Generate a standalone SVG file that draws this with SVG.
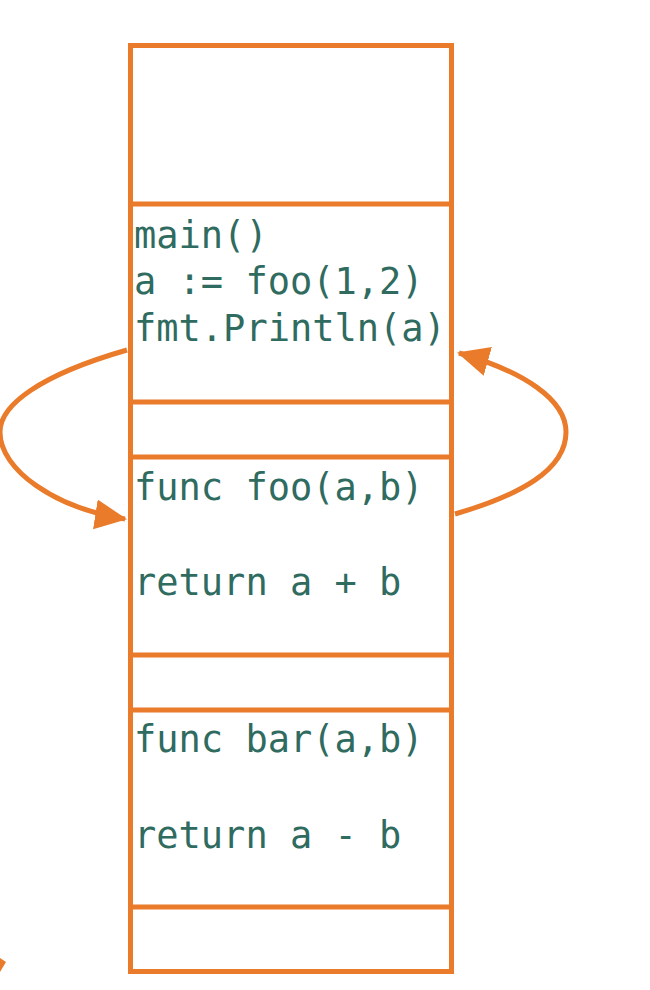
<svg xmlns="http://www.w3.org/2000/svg" width="650" height="990" viewBox="0 0 650 990">
<style>
.box{fill:none;stroke:#e97b2b;stroke-width:5}
.div{stroke:#e97b2b;stroke-width:5}
.code{font-family:"DejaVu Sans Mono","Liberation Mono",monospace;font-size:37px;fill:#2f6b5f}
.conn{fill:none;stroke:#e97b2b;stroke-width:5}
</style>
<defs>
<marker id="ah" markerWidth="8" markerHeight="8" refX="6" refY="3" orient="auto" markerUnits="strokeWidth">
<path d="M0,0 L6.4,3 L0,6 Z" fill="#e97b2b"/>
</marker>
</defs>
<rect width="650" height="990" fill="#ffffff"/>
<g id="stack">
<rect class="box" x="130.5" y="45.5" width="321" height="926"/>
<line class="div" x1="130" y1="204" x2="452" y2="204"/>
<line class="div" x1="130" y1="402" x2="452" y2="402"/>
<line class="div" x1="130" y1="457" x2="452" y2="457"/>
<line class="div" x1="130" y1="655" x2="452" y2="655"/>
<line class="div" x1="130" y1="710" x2="452" y2="710"/>
<line class="div" x1="130" y1="907" x2="452" y2="907"/>
</g>
<g id="main">
<text class="code" x="134" y="248">main()</text>
<text class="code" x="134" y="294">a := foo(1,2)</text>
<text class="code" x="134" y="341">fmt.Println(a)</text>
</g>
<g id="foo">
<text class="code" x="134" y="500">func foo(a,b)</text>
<text class="code" x="134" y="595">return a + b</text>
</g>
<g id="bar">
<text class="code" x="134" y="752">func bar(a,b)</text>
<text class="code" x="134" y="848">return a - b</text>
</g>
<g id="connectors">
<path class="conn" d="M127,350 C40,375 0,405 0,432 C0,470 55,508 125,519" marker-end="url(#ah)"/>
<path class="conn" d="M455,514 C520,495 566,470 566,432 C566,400 525,372 459,353" marker-end="url(#ah)"/>
<polygon points="0,958 6,962 0,972" fill="#e97b2b"/>
</g>
</svg>
